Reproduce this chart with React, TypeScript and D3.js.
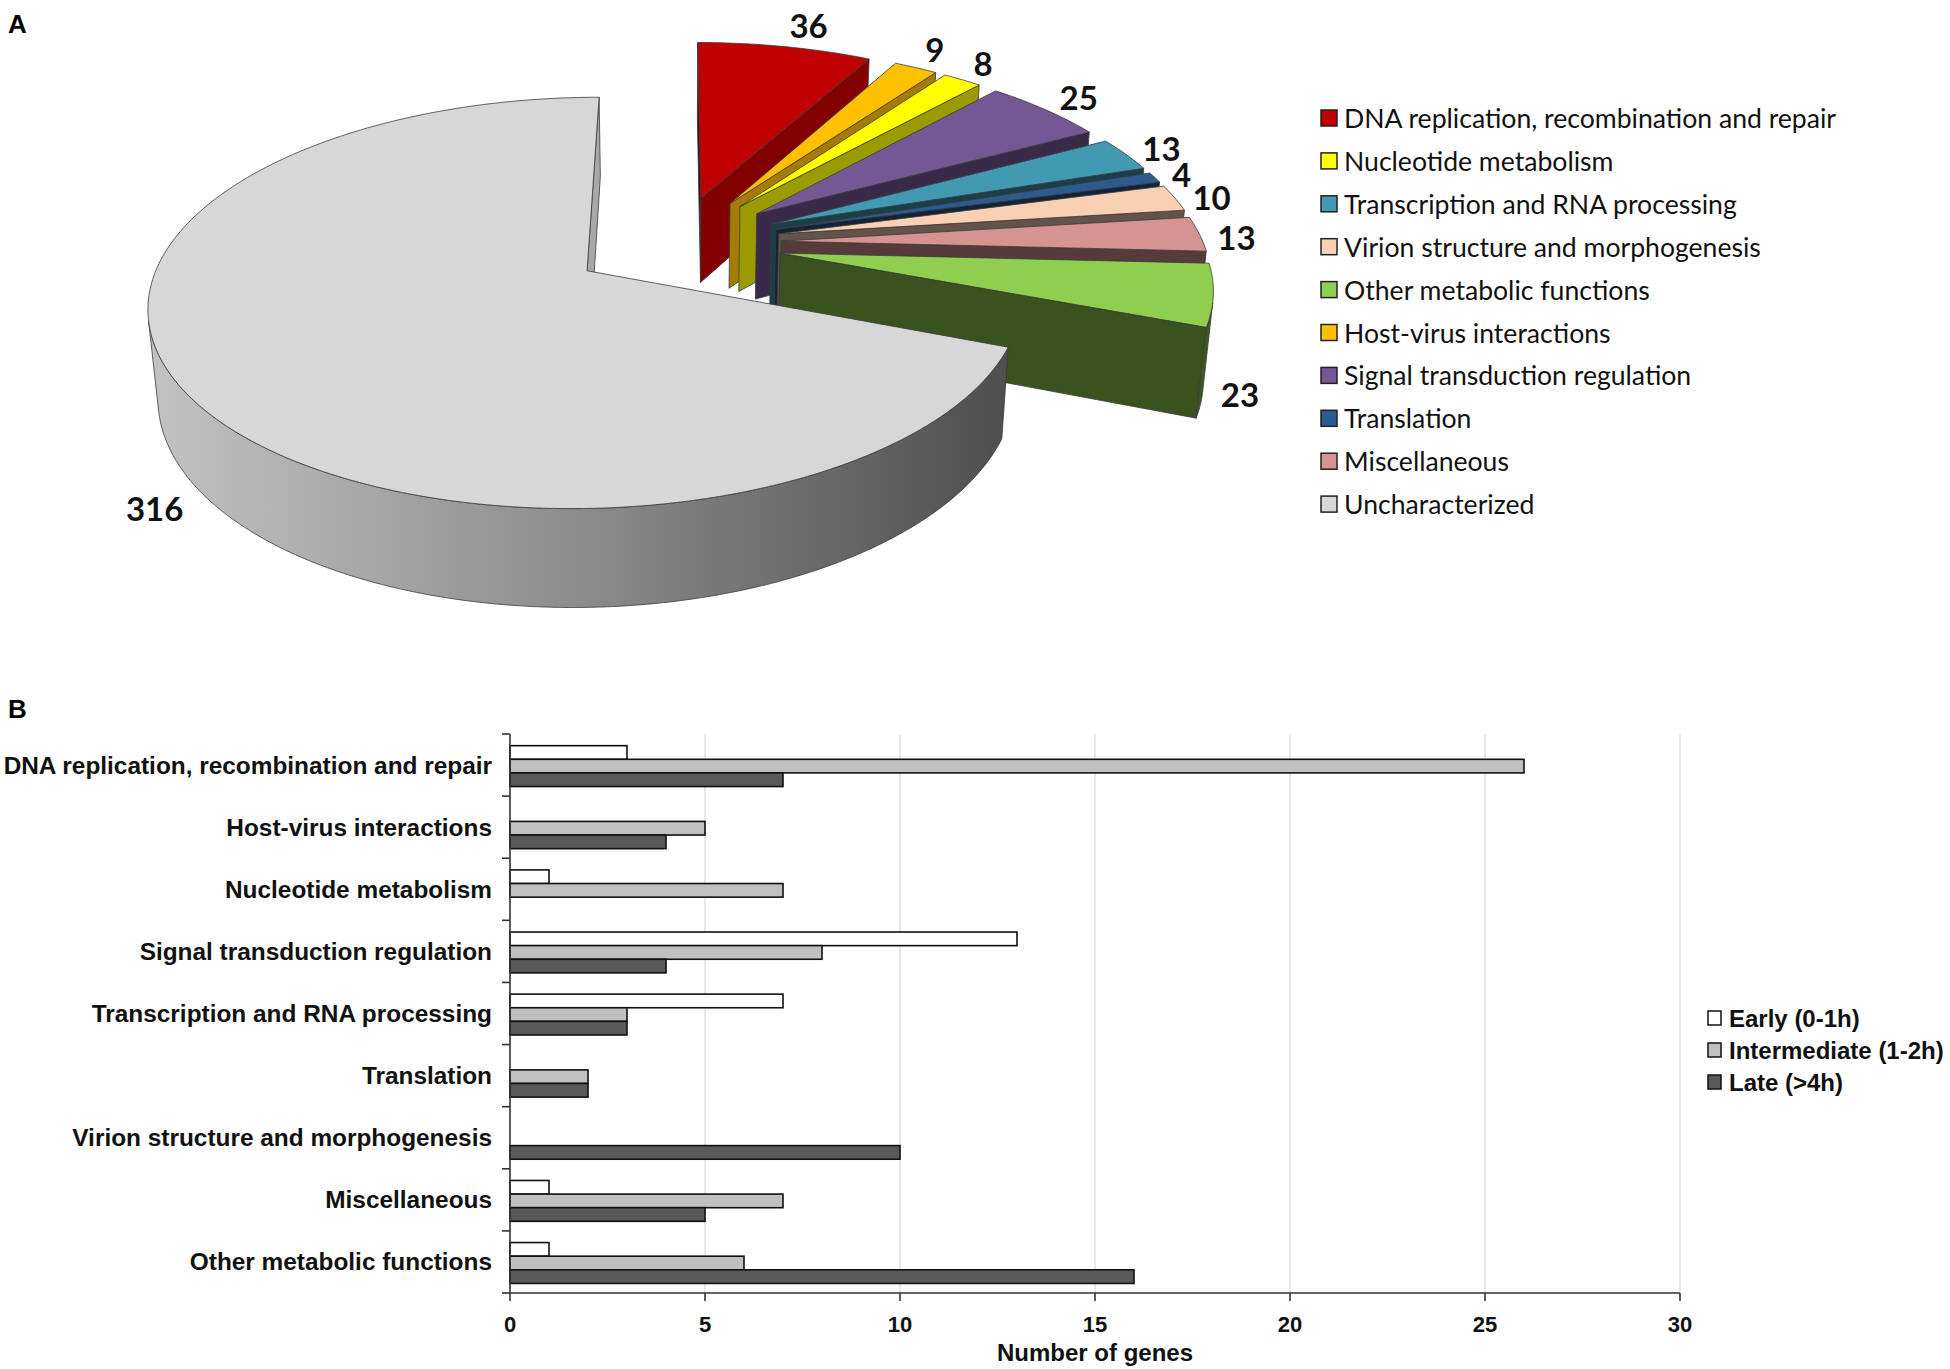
import React from "react";
import * as d3 from "d3";

// ---------------- Data ----------------
const pieCategories = [
  "DNA replication, recombination and repair",
  "Host-virus interactions",
  "Nucleotide metabolism",
  "Signal transduction regulation",
  "Transcription and RNA processing",
  "Translation",
  "Virion structure and morphogenesis",
  "Miscellaneous",
  "Other metabolic functions",
  "Uncharacterized",
];
const pieValues = [36, 9, 8, 25, 13, 4, 10, 13, 23, 316];
const pieColors = [
  "#c00000",
  "#ffc000",
  "#ffff00",
  "#745795",
  "#4199b2",
  "#2e5b8f",
  "#f9d0b3",
  "#d59391",
  "#8fce4f",
  "#d7d7d7",
];
const legendOrder = [0, 2, 4, 6, 8, 1, 3, 5, 7, 9];

const barCategories = [
  "DNA replication, recombination and repair",
  "Host-virus interactions",
  "Nucleotide metabolism",
  "Signal transduction regulation",
  "Transcription and RNA processing",
  "Translation",
  "Virion structure and morphogenesis",
  "Miscellaneous",
  "Other metabolic functions",
];
const barSeries = ["Early (0-1h)", "Intermediate (1-2h)", "Late (>4h)"];
const earlyValues = [3, 0, 1, 13, 7, 0, 0, 1, 1];
const intermediateValues = [26, 5, 7, 8, 3, 2, 0, 7, 6];
const lateValues = [7, 4, 0, 4, 3, 2, 10, 5, 16];
const barColors = ["#ffffff", "#c0c0c0", "#595959"];
const xTicks = [0, 5, 10, 15, 20, 25, 30];

// ---------------- 3D pie geometry ----------------
const CX = 676;
const CY = 243;
const SCALE = 422;
const ALPHA = (27.07 * Math.PI) / 180;
const DIST = 5.82;
const THICK = 0.235;
const EXPLODE = 0.25;
const SA = Math.sin(ALPHA);
const CA = Math.cos(ALPHA);
const CAM_U = 0;
const CAM_V = -DIST * CA;
const LIGHT_U = 0.958;
const LIGHT_V = 0.287;
const LABEL_FONT = 33;

function project(u: number, v: number, z: number): [number, number] {
  const yc = v * SA + z * CA;
  const depth = -v * CA + z * SA;
  const k = DIST / (DIST - depth);
  return [CX + SCALE * u * k, CY - SCALE * yc * k];
}

function poly(pts: [number, number][]) {
  return "M" + pts.map((p) => p[0].toFixed(2) + "," + p[1].toFixed(2)).join("L") + "Z";
}

type Face = { d: string; fill: string };

function buildPie() {
  const arcs = d3.pie<number>().sort(null).value((d) => d)(pieValues);
  const slices = arcs.map((a, i) => {
    const phi = (a.startAngle + a.endAngle) / 2;
    const ou = EXPLODE * Math.sin(phi);
    const ov = EXPLODE * Math.cos(phi);
    const P = (th: number, r: number, z: number) =>
      project(ou + r * Math.sin(th), ov + r * Math.cos(th), z);
    const base = d3.rgb(pieColors[i]);
    const shade = (f: number) =>
      d3.rgb(base.r * f, base.g * f, base.b * f).formatHex();
    const isBig = i === pieValues.length - 1;
    const faces: Face[] = [];

    // radial faces
    const radial: [number, number][] = [
      [a.startAngle, -1],
      [a.endAngle, 1],
    ];
    radial.forEach(([th, s]) => {
      const nu = s > 0 ? Math.cos(th) : -Math.cos(th);
      const nv = s > 0 ? -Math.sin(th) : Math.sin(th);
      const mu = ou + 0.5 * Math.sin(th);
      const mv = ov + 0.5 * Math.cos(th);
      const dot = (CAM_U - mu) * nu + (CAM_V - mv) * nv;
      if (dot > 0) {
        const f = 0.4 + 0.4 * Math.max(0, nu * LIGHT_U + nv * LIGHT_V);
        faces.push({
          d: poly([P(th, 0, 0), P(th, 1, 0), P(th, 1, -THICK), P(th, 0, -THICK)]),
          fill: shade(f),
        });
      }
    });

    // outer cylindrical wall (visible runs)
    const n = Math.max(2, Math.ceil((a.endAngle - a.startAngle) / (Math.PI / 360)));
    let run: number[] = [];
    const runs: number[][] = [];
    for (let j = 0; j <= n; j++) {
      const th = a.startAngle + ((a.endAngle - a.startAngle) * j) / n;
      const u = ou + Math.sin(th);
      const v = ov + Math.cos(th);
      const vis = (CAM_U - u) * Math.sin(th) + (CAM_V - v) * Math.cos(th) > 0;
      if (vis) run.push(th);
      else if (run.length) {
        runs.push(run);
        run = [];
      }
    }
    if (run.length) runs.push(run);
    runs.forEach((r) => {
      if (r.length < 2) return;
      const top = r.map((th) => P(th, 1, 0));
      const bot = r.map((th) => P(th, 1, -THICK)).reverse();
      faces.push({ d: poly([...top, ...bot]), fill: isBig ? "url(#grayWall)" : shade(0.42) });
    });

    // top face
    const topPts: [number, number][] = [P(0, 0, 0)];
    for (let j = 0; j <= n; j++) {
      const th = a.startAngle + ((a.endAngle - a.startAngle) * j) / n;
      topPts.push(P(th, 1, 0));
    }
    faces.push({ d: poly(topPts), fill: pieColors[i] });

    // label: just outside the slice, pushed out by its own size
    const front = Math.cos(phi) < 0;
    const rl = 1.0 + EXPLODE;
    const anchor = project(rl * Math.sin(phi), rl * Math.cos(phi), front ? -THICK : 0);
    const textW = String(a.data).length * 0.58 * LABEL_FONT;
    const sx = Math.sin(phi);
    const lab: [number, number] = [
      anchor[0] + Math.sign(sx) * textW * 0.5 + 18 * sx,
      anchor[1] - Math.cos(phi) * 0.8 * LABEL_FONT + 4,
    ];
    const depthKey = ov + 0.5 * Math.cos(phi);
    return { faces, depthKey, lab, value: a.data, i };
  });
  const order = [...slices].sort((p, q) => q.depthKey - p.depthKey);
  return { slices, order };
}

// ---------------- Bar chart geometry ----------------
const BAR_LEFT = 510;
const BAR_RIGHT = 1680;
const BAR_TOP = 734;
const BAR_BOTTOM = 1293;

export default function App() {
  const { slices, order } = buildPie();

  const x = d3.scaleLinear().domain([0, 30]).range([BAR_LEFT, BAR_RIGHT]);
  const y = d3.scaleBand<string>().domain(barCategories).range([BAR_TOP, BAR_BOTTOM]);
  const ySub = d3
    .scaleBand<string>()
    .domain(barSeries)
    .range([0, y.bandwidth()])
    .paddingInner(0)
    .paddingOuter(0.78)
    .align(0.55);
  const seriesValues = [earlyValues, intermediateValues, lateValues];
  const bandEdges = [...barCategories.map((c) => y(c) as number), BAR_BOTTOM];

  const legendFont = "Lato, 'Open Sans', sans-serif";
  const arialFont = "'Liberation Sans', Arial, sans-serif";

  return (
    <svg
      width={1950}
      height={1369}
      viewBox="0 0 1950 1369"
      style={{ position: "absolute", left: 0, top: 0, display: "block", background: "#fff" }}
    >
      <defs>
        <linearGradient id="grayWall" gradientUnits="userSpaceOnUse" x1={150} y1={0} x2={1010} y2={0}>
          <stop offset="0" stopColor="#c2c2c2" />
          <stop offset="0.5" stopColor="#8c8c8c" />
          <stop offset="1" stopColor="#4e4e4e" />
        </linearGradient>
      </defs>
      <rect x={0} y={0} width={1950} height={1369} fill="#fff" />

      {/* Panel labels */}
      <text x={8} y={33} fontFamily={arialFont} fontWeight="bold" fontSize={26} fill="#000">
        A
      </text>
      <text x={8} y={718} fontFamily={arialFont} fontWeight="bold" fontSize={26} fill="#000">
        B
      </text>

      {/* 3D pie */}
      <g stroke="#3a3a3a" strokeWidth={0.8} strokeLinejoin="round">
        {order.map((s) => (
          <g key={s.i}>
            {s.faces.map((f, k) => (
              <path key={k} d={f.d} fill={f.fill} />
            ))}
          </g>
        ))}
      </g>
      <g fontFamily={legendFont} fontWeight="bold" fontSize={LABEL_FONT} fill="#111">
        {slices.map((s) => (
          <text key={s.i} x={s.lab[0]} y={s.lab[1]} textAnchor="middle" dominantBaseline="central">
            {s.value}
          </text>
        ))}
      </g>

      {/* Pie legend */}
      <g fontFamily={legendFont} fontSize={26.6} fill="#111">
        {legendOrder.map((ci, r) => {
          const cy = 118 + r * 42.9;
          return (
            <g key={ci}>
              <rect x={1321} y={cy - 8} width={16} height={16} fill={pieColors[ci]} stroke="#222" strokeWidth={1.5} />
              <text x={1344} y={cy} dominantBaseline="central">
                {pieCategories[ci]}
              </text>
            </g>
          );
        })}
      </g>

      {/* Bar chart gridlines */}
      <g stroke="#d9d9d9" strokeWidth={1.2}>
        {xTicks.filter((t) => t > 0).map((t) => (
          <line key={t} x1={x(t)} x2={x(t)} y1={BAR_TOP} y2={BAR_BOTTOM} />
        ))}
      </g>

      {/* Bars */}
      <g stroke="#111" strokeWidth={1.6}>
        {barCategories.map((c, ci) =>
          barSeries.map((s, si) => {
            const v = seriesValues[si][ci];
            if (!v) return null;
            return (
              <rect
                key={c + s}
                x={x(0)}
                y={(y(c) as number) + (ySub(s) as number)}
                width={x(v) - x(0)}
                height={ySub.bandwidth()}
                fill={barColors[si]}
              />
            );
          })
        )}
      </g>

      {/* Axes */}
      <g stroke="#333" strokeWidth={1.6}>
        <line x1={BAR_LEFT} x2={BAR_LEFT} y1={BAR_TOP} y2={BAR_BOTTOM} />
        <line x1={BAR_LEFT} x2={BAR_RIGHT} y1={BAR_BOTTOM} y2={BAR_BOTTOM} />
        {bandEdges.map((e, k) => (
          <line key={k} x1={BAR_LEFT - 8} x2={BAR_LEFT} y1={e} y2={e} />
        ))}
        {xTicks.map((t) => (
          <line key={t} x1={x(t)} x2={x(t)} y1={BAR_BOTTOM} y2={BAR_BOTTOM + 8} />
        ))}
      </g>
      <g fontFamily={arialFont} fontWeight="bold" fill="#111">
        {xTicks.map((t) => (
          <text key={t} x={x(t)} y={1332} textAnchor="middle" fontSize={22}>
            {t}
          </text>
        ))}
        <text x={(BAR_LEFT + BAR_RIGHT) / 2} y={1361} textAnchor="middle" fontSize={24}>
          Number of genes
        </text>
        {barCategories.map((c) => (
          <text
            key={c}
            x={492}
            y={(y(c) as number) + y.bandwidth() / 2}
            textAnchor="end"
            dominantBaseline="central"
            fontSize={24.4}
          >
            {c}
          </text>
        ))}
      </g>

      {/* Bar legend */}
      <g fontFamily={arialFont} fontWeight="bold" fontSize={24} fill="#111">
        {barSeries.map((s, si) => {
          const cy = 1018 + si * 32;
          return (
            <g key={s}>
              <rect x={1708} y={cy - 7} width={13} height={14} fill={barColors[si]} stroke="#111" strokeWidth={1.5} />
              <text x={1729} y={cy} dominantBaseline="central">
                {s}
              </text>
            </g>
          );
        })}
      </g>
    </svg>
  );
}
